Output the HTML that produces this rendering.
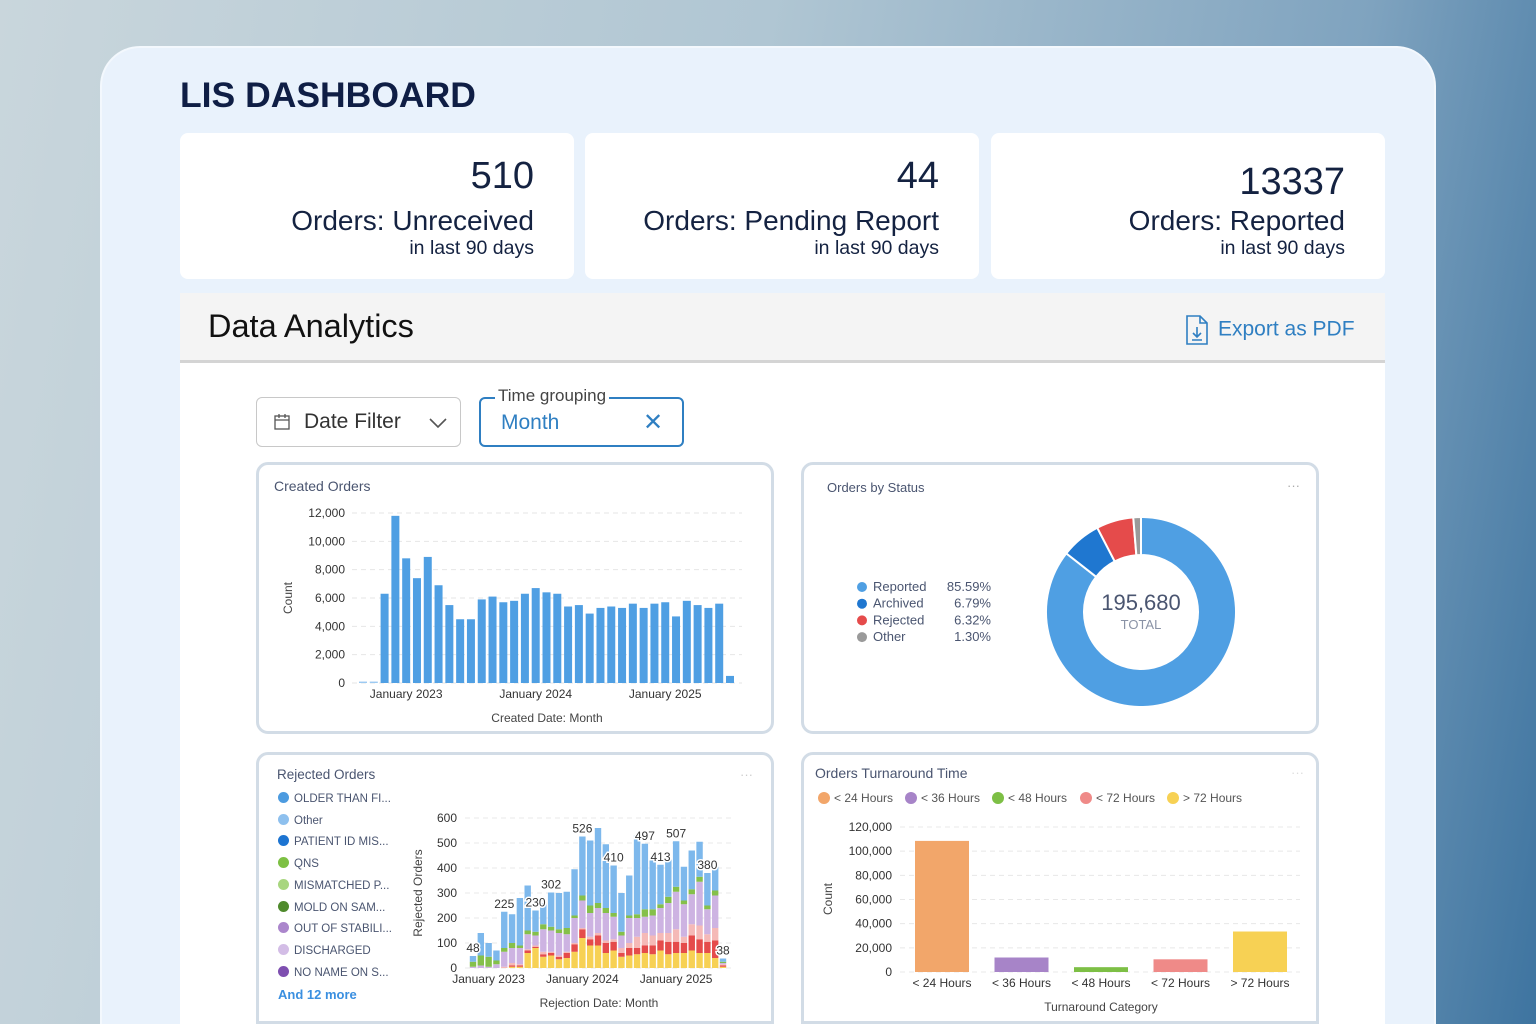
<!DOCTYPE html>
<html><head><meta charset="utf-8">
<style>
*{margin:0;padding:0;box-sizing:border-box}
html,body{width:1536px;height:1024px;overflow:hidden}
body{position:relative;font-family:"Liberation Sans",sans-serif;background:linear-gradient(100deg,#c9d6dc 0%,#b0c6d3 45%,#7fa3bf 80%,#3e74a0 100%);color:#142241}
.abs{position:absolute}
#main{left:100px;top:46px;width:1336px;height:978px;background:#e9f2fc;border-radius:40px 40px 0 0;border:2px solid #f3f8fd;border-bottom:none}
.stat{background:#fff;border-radius:8px;top:133px;height:146px;width:394px;text-align:right}
.stat .n{position:absolute;right:40px;font-size:38px}
.stat .l{position:absolute;right:40px;top:72px;font-size:28px}
.stat .s{position:absolute;right:40px;top:104px;font-size:19.5px}
.card{background:#fff;border:3px solid #d2dce6;border-radius:12px}
.ct{font-size:14px;color:#4a5570}
</style></head><body>
<div id="main" class="abs"></div>
<div class="abs" style="left:180px;top:75px;font-size:35.5px;font-weight:bold;color:#0f1e45">LIS DASHBOARD</div>

<div class="abs stat" style="left:180px"><div class="n" style="top:22px">510</div><div class="l">Orders: Unreceived</div><div class="s">in last 90 days</div></div>
<div class="abs stat" style="left:585px"><div class="n" style="top:22px">44</div><div class="l">Orders: Pending Report</div><div class="s">in last 90 days</div></div>
<div class="abs stat" style="left:991px"><div class="n" style="top:28px">13337</div><div class="l">Orders: Reported</div><div class="s">in last 90 days</div></div>

<div class="abs" style="left:180px;top:293px;width:1205px;height:731px;background:#fff"></div>
<div class="abs" style="left:180px;top:293px;width:1205px;height:70px;background:#f4f4f4;border-bottom:3px solid #d4d4d4"></div>
<div class="abs" style="left:208px;top:308px;font-size:32.5px;color:#111">Data Analytics</div>
<div class="abs" style="left:1184px;top:315px;color:#2f7fc2;font-size:21px">
<svg width="26" height="30" style="vertical-align:middle;margin-right:8px" viewBox="0 0 26 30"><path d="M3 1h13l7 7v21H3z" fill="none" stroke="#2f7fc2" stroke-width="1.6"/><path d="M16 1v7h7" fill="none" stroke="#2f7fc2" stroke-width="1.6"/><path d="M13 12v10M9 18l4 4 4-4M8 25h10" fill="none" stroke="#2f7fc2" stroke-width="1.6"/></svg>Export as PDF</div>

<div class="abs" style="left:256px;top:397px;width:205px;height:50px;border:1.5px solid #c8c8c8;border-radius:6px;background:#fff">
<svg class="abs" style="left:17px;top:16px" width="16" height="16"><rect x="1" y="2" width="14" height="13" fill="none" stroke="#555" stroke-width="1.3"/><path d="M1 6h14M5 0v4M11 0v4" stroke="#555" stroke-width="1.3"/></svg>
<span class="abs" style="left:47px;top:12px;font-size:21px;color:#333">Date Filter</span>
<svg class="abs" style="left:172px;top:19px" width="18" height="12"><path d="M1 2l8 8 8-8" fill="none" stroke="#555" stroke-width="1.6"/></svg></div>
<div class="abs" style="left:479px;top:397px;width:205px;height:50px;border:2px solid #2f7fc2;border-radius:6px;background:#fff">
<span class="abs" style="left:14px;top:-13px;background:#fff;padding:0 3px;font-size:17px;color:#444">Time grouping</span>
<span class="abs" style="left:20px;top:12px;font-size:21px;color:#2f7fc2">Month</span>
<span class="abs" style="left:162px;top:9px;font-size:24px;color:#2f7fc2">✕</span></div>

<div class="abs card" style="left:256px;top:462px;width:518px;height:272px"></div>
<div class="abs card" style="left:801px;top:462px;width:518px;height:272px"></div>
<div class="abs card" style="left:256px;top:752px;width:518px;height:272px;border-bottom-left-radius:0;border-bottom-right-radius:0"></div>
<div class="abs card" style="left:801px;top:752px;width:518px;height:272px;border-bottom-left-radius:0;border-bottom-right-radius:0"></div>

<div class="abs ct" style="left:274px;top:478px">Created Orders</div>
<div class="abs ct" style="left:827px;top:480px;font-size:13px">Orders by Status</div>
<div class="abs" style="left:1287px;top:478px;color:#aaa;font-size:13px">···</div>
<div class="abs ct" style="left:277px;top:767px;font-size:13.5px">Rejected Orders</div>
<div class="abs" style="left:740px;top:767px;color:#ccc;font-size:13px">···</div>
<div class="abs ct" style="left:815px;top:765px">Orders Turnaround Time</div>
<div class="abs" style="left:1291px;top:765px;color:#ddd;font-size:13px">···</div>

<div class="abs" style="left:278px;top:789px;font-size:11.5px;color:#4a5570;line-height:21.7px">
<div><span style="display:inline-block;width:11px;height:11px;border-radius:50%;background:#4c9be0;margin-right:5px;vertical-align:-1px"></span>OLDER THAN FI...</div>
<div><span style="display:inline-block;width:11px;height:11px;border-radius:50%;background:#8ec0ee;margin-right:5px;vertical-align:-1px"></span>Other</div>
<div><span style="display:inline-block;width:11px;height:11px;border-radius:50%;background:#1c74d1;margin-right:5px;vertical-align:-1px"></span>PATIENT ID MIS...</div>
<div><span style="display:inline-block;width:11px;height:11px;border-radius:50%;background:#7dc043;margin-right:5px;vertical-align:-1px"></span>QNS</div>
<div><span style="display:inline-block;width:11px;height:11px;border-radius:50%;background:#a8d67f;margin-right:5px;vertical-align:-1px"></span>MISMATCHED P...</div>
<div><span style="display:inline-block;width:11px;height:11px;border-radius:50%;background:#4f8a2c;margin-right:5px;vertical-align:-1px"></span>MOLD ON SAM...</div>
<div><span style="display:inline-block;width:11px;height:11px;border-radius:50%;background:#ab86cc;margin-right:5px;vertical-align:-1px"></span>OUT OF STABILI...</div>
<div><span style="display:inline-block;width:11px;height:11px;border-radius:50%;background:#d3bde6;margin-right:5px;vertical-align:-1px"></span>DISCHARGED</div>
<div><span style="display:inline-block;width:11px;height:11px;border-radius:50%;background:#7e4fb0;margin-right:5px;vertical-align:-1px"></span>NO NAME ON S...</div>
<div style="color:#3a8fe0;font-weight:bold;font-size:13px;margin-top:0px">And 12 more</div>
</div>

<svg id="charts" class="abs" style="left:0;top:0" width="1536" height="1024" font-family="Liberation Sans, sans-serif"></svg>

<script>
const createdValues=[100,100,6300,11800,8800,7400,8900,6900,5500,4500,4500,5900,6100,5700,5800,6300,6700,6400,6300,5400,5500,4900,5300,5400,5300,5600,5300,5600,5700,4700,5800,5500,5300,5600,500];
const createdTicks=[0,2000,4000,6000,8000,10000,12000];
const createdXLabels=[[4,"January 2023"],[16,"January 2024"],[28,"January 2025"]];

const statusLabels=["Reported","Archived","Rejected","Other"];
const statusPct=[85.59,6.79,6.32,1.30];
const statusColors=["#4f9fe3","#1f77d0","#e54b4b","#9a9a9a"];
const statusTotal="195,680";

const rejYellow=[0,0,0,0,0,5,5,60,80,45,50,35,40,65,120,90,90,60,70,45,50,55,60,55,70,55,60,60,70,60,60,40,5];
const rejRed=[0,0,0,0,0,5,5,10,5,10,10,10,20,30,35,25,40,40,35,15,30,25,30,35,40,50,45,40,60,55,45,70,5];
const rejPink=[0,0,0,0,5,10,5,5,5,10,5,5,5,5,5,10,10,10,10,20,20,45,50,40,30,35,50,25,45,55,30,50,5];
const rejPurple=[5,10,5,15,60,60,65,60,40,90,85,90,70,100,110,95,100,110,90,50,100,75,65,80,100,120,150,130,120,175,100,130,5];
const rejGreen=[20,40,40,15,15,20,10,15,15,20,15,15,25,10,20,30,20,20,15,15,10,15,30,25,15,25,20,15,20,20,15,20,5];
const rejBlue=[23,90,55,40,145,115,190,180,85,85,137,145,145,185,236,260,300,255,190,155,160,315,262,205,158,150,182,135,155,140,130,95,13];
const rejLabels=[[0,"48"],[4,"225"],[8,"230"],[10,"302"],[14,"526"],[18,"410"],[22,"497"],[24,"413"],[26,"507"],[30,"380"],[32,"38"]];
const rejTicks=[0,100,200,300,400,500,600];
const rejXLabels=[[2,"January 2023"],[14,"January 2024"],[26,"January 2025"]];

const taCategories=["< 24 Hours","< 36 Hours","< 48 Hours","< 72 Hours","> 72 Hours"];
const taValues=[108500,12000,4000,10500,33500];
const taColors=["#f2a66a","#a784c8","#7dbf45","#ef8a88","#f7d154"];
const taTicks=[0,20000,40000,60000,80000,100000,120000];

const S=document.getElementById('charts');
function el(t,a,txt){const e=document.createElementNS('http://www.w3.org/2000/svg',t);for(const k in a)e.setAttribute(k,a[k]);if(txt!==undefined)e.textContent=txt;S.appendChild(e);return e;}
const fmt=v=>v.toLocaleString('en-US');

// Created orders
{const y=v=>683-v/12000*170, x=i=>363+i*(730-363)/34;
createdTicks.forEach(t=>{const g=el('line',{x1:352,x2:742,y1:y(t),y2:y(t),stroke:'#e6e6e6','stroke-dasharray':'5,4'});
const l=el('text',{x:345,y:y(t)+4,'text-anchor':'end','font-size':12,fill:'#333'},fmt(t));});
createdValues.forEach((v,i)=>{const r=el('rect',{x:x(i)-4,y:y(v),width:8,height:683-y(v),fill:i<2?'#9ccaf2':'#4f9fe3'});});
createdXLabels.forEach(([i,t])=>{const l=el('text',{x:x(i),y:698,'text-anchor':'middle','font-size':12,fill:'#333'},t);});
let a=el('text',{x:547,y:722,'text-anchor':'middle','font-size':12,fill:'#444'},'Created Date: Month');
a=el('text',{x:292,y:598,'text-anchor':'middle','font-size':12,fill:'#444',transform:'rotate(-90 292 598)'},'Count');}

// Donut
{const cx=1141,cy=612,R=95,r=57;let ang=0;
statusPct.forEach((p,i)=>{const a0=ang/100*2*Math.PI,a1=(ang+p)/100*2*Math.PI;ang+=p;
const P=(rr,a)=>[cx+rr*Math.sin(a),cy-rr*Math.cos(a)];const lg=(a1-a0)>Math.PI?1:0;
const [x0,y0]=P(R,a0),[x1,y1]=P(R,a1),[x2,y2]=P(r,a1),[x3,y3]=P(r,a0);
const s=el('path',{d:`M${x0} ${y0}A${R} ${R} 0 ${lg} 1 ${x1} ${y1}L${x2} ${y2}A${r} ${r} 0 ${lg} 0 ${x3} ${y3}Z`,fill:statusColors[i],stroke:'#fff','stroke-width':2});

const yy=591+i*16.7;
const d=el('circle',{cx:862,cy:yy-4,r:5,fill:statusColors[i]});
const t=el('text',{x:873,y:yy,'font-size':13,fill:'#4a5570'},statusLabels[i]);
const q=el('text',{x:991,y:yy,'font-size':13,fill:'#4a5570','text-anchor':'end'},p.toFixed(2)+'%');});
let t=el('text',{x:cx,y:610,'text-anchor':'middle','font-size':22,fill:'#4a5570'},statusTotal);
t=el('text',{x:cx,y:629,'text-anchor':'middle','font-size':13,fill:'#8a93a6'},'TOTAL');}

// Rejected stacked
{const y=v=>968-v/600*150, x=i=>473+i*(723-473)/32;
rejTicks.forEach(t=>{const g=el('line',{x1:465,x2:735,y1:y(t),y2:y(t),stroke:'#e8e8e8','stroke-dasharray':'5,4'});
const l=el('text',{x:457,y:y(t)+4,'text-anchor':'end','font-size':12,fill:'#333'},t);});
const series=[[rejYellow,'#f7d154'],[rejRed,'#e54b4b'],[rejPink,'#f5b9b7'],[rejPurple,'#cdb3e2'],[rejGreen,'#85c04a'],[rejBlue,'#7db8ec']];
rejBlue.forEach((_,i)=>{let base=0;series.forEach(([arr,c])=>{const v=arr[i];const r=el('rect',{x:x(i)-3.2,y:y(base+v),width:6.4,height:y(base)-y(base+v),fill:c});base+=v;});});
rejLabels.forEach(([i,t])=>{let tot=series.reduce((s,[a])=>s+a[i],0);const l=el('text',{x:x(i),y:y(tot)-4,'text-anchor':'middle','font-size':12,fill:'#333',stroke:'#fff','stroke-width':3,'paint-order':'stroke'},t);});
rejXLabels.forEach(([i,t])=>{const l=el('text',{x:x(i),y:983,'text-anchor':'middle','font-size':12,fill:'#333'},t);});
let a=el('text',{x:599,y:1007,'text-anchor':'middle','font-size':12,fill:'#444'},'Rejection Date: Month');
a=el('text',{x:422,y:893,'text-anchor':'middle','font-size':12,fill:'#444',transform:'rotate(-90 422 893)'},'Rejected Orders');}

// Turnaround
{const y=v=>972-v/120000*145, x=i=>942+i*79.5;
taTicks.forEach(t=>{const g=el('line',{x1:900,x2:1300,y1:y(t),y2:y(t),stroke:'#e8e8e8','stroke-dasharray':'5,4'});
const l=el('text',{x:892,y:y(t)+4,'text-anchor':'end','font-size':12,fill:'#333'},fmt(t));});
taValues.forEach((v,i)=>{const r=el('rect',{x:x(i)-27,y:y(v),width:54,height:972-y(v),fill:taColors[i]});
const l=el('text',{x:x(i),y:987,'text-anchor':'middle','font-size':12,fill:'#333'},taCategories[i]);});
let lx=818;taCategories.forEach((c,i)=>{const d=el('circle',{cx:lx+6,cy:798,r:6,fill:taColors[i]});
const t=el('text',{x:lx+16,y:802,'font-size':12,fill:'#555'},c);lx+=[87,87,88,87,0][i];});
let a=el('text',{x:1101,y:1011,'text-anchor':'middle','font-size':12,fill:'#444'},'Turnaround Category');
a=el('text',{x:832,y:899,'text-anchor':'middle','font-size':12,fill:'#444',transform:'rotate(-90 832 899)'},'Count');}
</script>
</body></html>
